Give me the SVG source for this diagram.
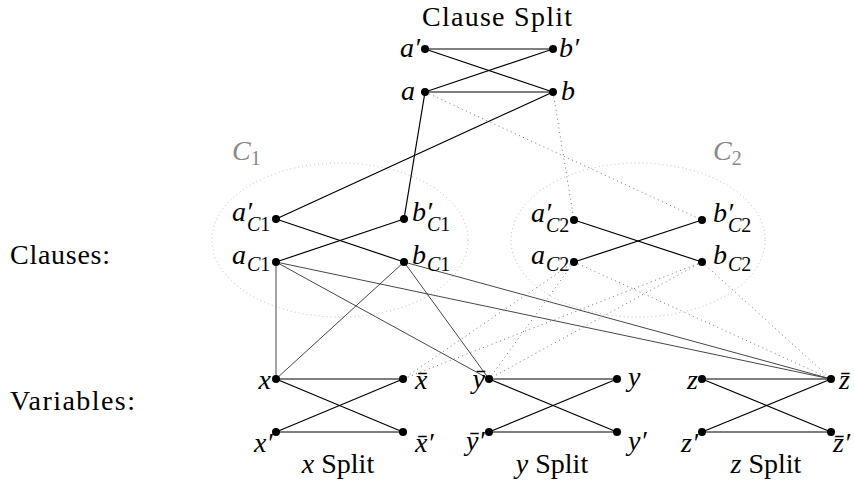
<svg xmlns="http://www.w3.org/2000/svg" width="854" height="485" viewBox="0 0 854 485">
<style>
text{font-family:"Liberation Serif","DejaVu Serif",serif;font-size:28px;fill:#000}
.m{font-style:italic}
.s{font-size:20px}
.n{font-style:normal}
.g{fill:#888}
.e{stroke:#000;stroke-width:1.2;fill:none}
.t{stroke:#333;stroke-width:0.9;fill:none}
.d{stroke:#777;stroke-width:1;stroke-dasharray:1 3.5;fill:none}
.ell{stroke:#bbb;stroke-width:1;stroke-dasharray:1 3;fill:none}
circle{fill:#000}
</style>
<rect width="854" height="485" fill="#fff"/>
<g id="regions">
<ellipse class="ell" cx="340" cy="240" rx="128" ry="77"/>
<ellipse class="ell" cx="638" cy="240" rx="127" ry="77"/>
<text class="m g" x="232" y="160">C<tspan class="s n" dy="5">1</tspan></text>
<text class="m g" x="713" y="160">C<tspan class="s n" dy="5">2</tspan></text>
</g>
<g id="labels">
<text x="497" y="26" text-anchor="middle" textLength="150">Clause Split</text>
<text x="10" y="264" textLength="100">Clauses:</text>
<text x="10" y="410" textLength="125">Variables:</text>
<text x="338" y="473" text-anchor="middle"><tspan class="m">x</tspan> Split</text>
<text x="552" y="473" text-anchor="middle"><tspan class="m">y</tspan> Split</text>
<text x="766" y="473" text-anchor="middle"><tspan class="m">z</tspan> Split</text>
</g>
<g id="connectors">
<line class="e" x1="425" y1="49" x2="553" y2="49"/>
<line class="e" x1="425" y1="49" x2="553" y2="92"/>
<line class="e" x1="425" y1="92" x2="553" y2="49"/>
<line class="e" x1="425" y1="92" x2="553" y2="92"/>
<line class="e" x1="425" y1="92" x2="404" y2="219"/>
<line class="e" x1="553" y1="92" x2="276" y2="219"/>
<line class="d" x1="425" y1="92" x2="702" y2="220"/>
<line class="d" x1="553" y1="92" x2="574" y2="220"/>
<line class="e" x1="276" y1="219" x2="404" y2="262"/>
<line class="e" x1="276" y1="262" x2="404" y2="219"/>
<line class="e" x1="574" y1="220" x2="702" y2="262"/>
<line class="e" x1="574" y1="262" x2="702" y2="220"/>
<line class="t" x1="276" y1="262" x2="276" y2="379"/>
<line class="t" x1="276" y1="262" x2="489" y2="379"/>
<line class="t" x1="276" y1="262" x2="831" y2="379"/>
<line class="t" x1="404" y1="262" x2="276" y2="379"/>
<line class="t" x1="404" y1="262" x2="489" y2="379"/>
<line class="t" x1="404" y1="262" x2="831" y2="379"/>
<line class="d" x1="574" y1="262" x2="403" y2="379"/>
<line class="d" x1="574" y1="262" x2="489" y2="379"/>
<line class="d" x1="574" y1="262" x2="831" y2="379"/>
<line class="d" x1="702" y1="262" x2="403" y2="379"/>
<line class="d" x1="702" y1="262" x2="489" y2="379"/>
<line class="d" x1="702" y1="262" x2="831" y2="379"/>
<line class="e" x1="276" y1="379" x2="403" y2="379"/>
<line class="e" x1="276" y1="379" x2="403" y2="432"/>
<line class="e" x1="276" y1="432" x2="403" y2="379"/>
<line class="e" x1="276" y1="432" x2="403" y2="432"/>
<line class="e" x1="489" y1="379" x2="617" y2="379"/>
<line class="e" x1="489" y1="379" x2="617" y2="432"/>
<line class="e" x1="489" y1="432" x2="617" y2="379"/>
<line class="e" x1="489" y1="432" x2="617" y2="432"/>
<line class="e" x1="702" y1="379" x2="831" y2="379"/>
<line class="e" x1="702" y1="379" x2="831" y2="432"/>
<line class="e" x1="702" y1="432" x2="831" y2="379"/>
<line class="e" x1="702" y1="432" x2="831" y2="432"/>
</g>
<g id="n-ap"><circle cx="425" cy="49" r="4"/><text class="m" x="420" y="57" text-anchor="end">a′</text></g>
<g id="n-bp"><circle cx="553" cy="49" r="4"/><text class="m" x="559" y="57">b′</text></g>
<g id="n-a"><circle cx="425" cy="92" r="4"/><text class="m" x="415" y="100" text-anchor="end">a</text></g>
<g id="n-b"><circle cx="553" cy="92" r="4"/><text class="m" x="561" y="100">b</text></g>
<g id="n-apC1"><circle cx="276" cy="219" r="4"/><text class="m" x="232" y="221">a′<tspan class="s" x="247" y="231">C</tspan><tspan class="s n">1</tspan></text></g>
<g id="n-bpC1"><circle cx="404" cy="219" r="4"/><text class="m" x="412" y="221">b′<tspan class="s" x="427" y="231">C</tspan><tspan class="s n">1</tspan></text></g>
<g id="n-aC1"><circle cx="276" cy="262" r="4"/><text class="m" x="232" y="264">a<tspan class="s" x="247" y="271">C</tspan><tspan class="s n">1</tspan></text></g>
<g id="n-bC1"><circle cx="404" cy="262" r="4"/><text class="m" x="412" y="264">b<tspan class="s" x="427" y="271">C</tspan><tspan class="s n">1</tspan></text></g>
<g id="n-apC2"><circle cx="574" cy="220" r="4"/><text class="m" x="531" y="222">a′<tspan class="s" x="546" y="232">C</tspan><tspan class="s n">2</tspan></text></g>
<g id="n-bpC2"><circle cx="702" cy="220" r="4"/><text class="m" x="713" y="222">b′<tspan class="s" x="728" y="232">C</tspan><tspan class="s n">2</tspan></text></g>
<g id="n-aC2"><circle cx="574" cy="262" r="4"/><text class="m" x="531" y="264">a<tspan class="s" x="546" y="271">C</tspan><tspan class="s n">2</tspan></text></g>
<g id="n-bC2"><circle cx="702" cy="262" r="4"/><text class="m" x="713" y="264">b<tspan class="s" x="728" y="271">C</tspan><tspan class="s n">2</tspan></text></g>
<g id="n-x"><circle cx="276" cy="379" r="4"/><text class="m" x="271" y="389" text-anchor="end">x</text></g>
<g id="n-xb"><circle cx="403" cy="379" r="4"/><text class="m" x="415" y="389">x̄</text></g>
<g id="n-xp"><circle cx="276" cy="432" r="4"/><text class="m" x="254" y="452">x′</text></g>
<g id="n-xbp"><circle cx="403" cy="432" r="4"/><text class="m" x="415" y="452">x̄′</text></g>
<g id="n-yb"><circle cx="489" cy="379" r="4"/><text class="m" x="485" y="388" text-anchor="end">ȳ</text></g>
<g id="n-y"><circle cx="617" cy="379" r="4"/><text class="m" x="628" y="386">y</text></g>
<g id="n-ybp"><circle cx="489" cy="432" r="4"/><text class="m" x="466" y="450">ȳ′</text></g>
<g id="n-yp"><circle cx="617" cy="432" r="4"/><text class="m" x="628" y="450">y′</text></g>
<g id="n-z"><circle cx="702" cy="379" r="4"/><text class="m" x="698" y="389" text-anchor="end">z</text></g>
<g id="n-zb"><circle cx="831" cy="379" r="4"/><text class="m" x="839" y="389">z̄</text></g>
<g id="n-zp"><circle cx="702" cy="432" r="4"/><text class="m" x="681" y="452">z′</text></g>
<g id="n-zbp"><circle cx="831" cy="432" r="4"/><text class="m" x="833" y="452">z̄′</text></g>
</svg>
